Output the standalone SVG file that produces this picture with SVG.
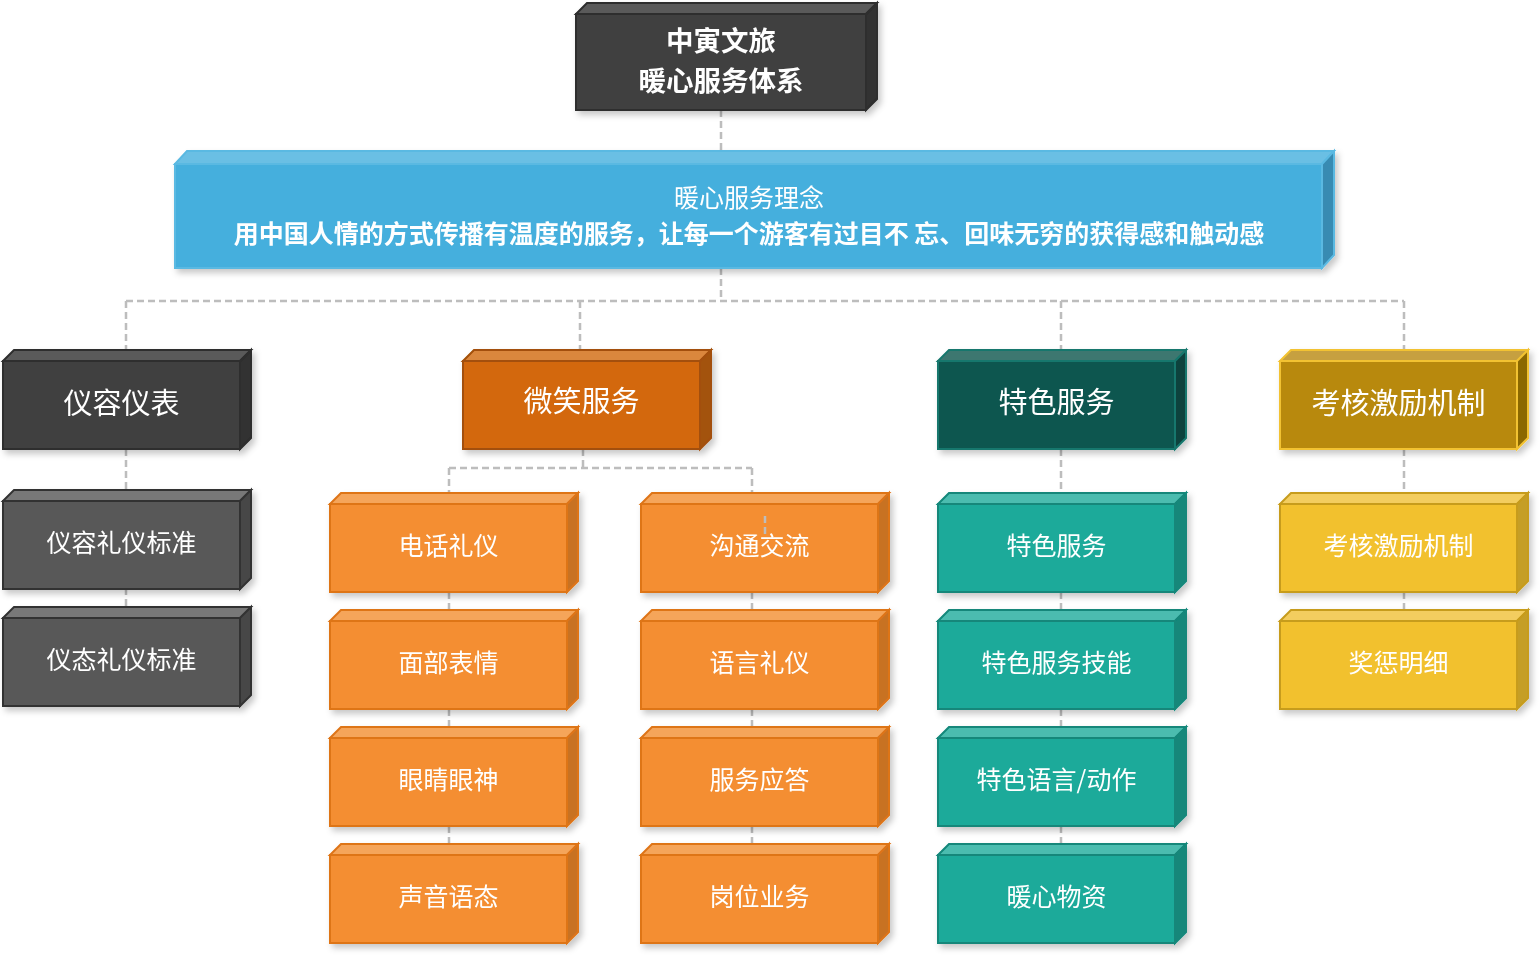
<svg xmlns="http://www.w3.org/2000/svg" width="1540" height="955" viewBox="0 0 1540 955">
<defs>
<filter id="sh" x="-10%" y="-20%" width="125%" height="145%">
<feDropShadow dx="3" dy="4" stdDeviation="3" flood-color="#000" flood-opacity="0.22"/>
</filter>
</defs>
<style>
text{font-family:"Noto Sans CJK SC","Liberation Sans",sans-serif;fill:#fff;text-anchor:middle;dominant-baseline:central}
.l2{font-size:29px}
.l3{font-size:25px}
.conn{fill:none;stroke:#BDBDBD;stroke-width:2.5;stroke-dasharray:7 4}
.box{filter:url(#sh)}
.box rect,.box polygon{stroke-width:2;stroke-linejoin:miter}
.dk rect{fill:#404040;stroke:#2E2E2E}.dk .t{fill:#5A5A5A;stroke:#2E2E2E}.dk .s{fill:#303030;stroke:#2E2E2E}
.gr rect{fill:#595959;stroke:#333}.gr .t{fill:#787878;stroke:#333}.gr .s{fill:#474747;stroke:#333}
.bl rect{fill:#45AFDD;stroke:#5AB9E2}.bl .t{fill:#6BBFE4;stroke:#5AB9E2}.bl .s{fill:#388BB2;stroke:#5AB9E2}
.od rect{fill:#D3680A;stroke:#A35008}.od .t{fill:#DA873E;stroke:#A35008}.od .s{fill:#A3520A;stroke:#A35008}
.or rect{fill:#F48E30;stroke:#DE7419}.or .t{fill:#F5A55A;stroke:#DE7419}.or .s{fill:#C87224;stroke:#DE7419}
.td rect{fill:#0C5650;stroke:#16776D}.td .t{fill:#3D776F;stroke:#16776D}.td .s{fill:#08433E;stroke:#16776D}
.tl rect{fill:#1AAA9A;stroke:#12877A}.tl .t{fill:#4BBCAF;stroke:#12877A}.tl .s{fill:#13877A;stroke:#12877A}
.yd rect{fill:#B8890A;stroke:#F2C230}.yd .t{fill:#C6A040;stroke:#F2C230}.yd .s{fill:#8B6806;stroke:#F2C230}
.yl rect{fill:#F2C12E;stroke:#C79C1E}.yl .t{fill:#F3CD5E;stroke:#C79C1E}.yl .s{fill:#C59E28;stroke:#C79C1E}
</style>

<g id="connectors">
<path class="conn" d="M721,110 V151 M721,268 V301 M126,301 H1404 M126,301 V350 M580,301 V350 M1061,301 V350 M1404,301 V350"/>
<path class="conn" d="M126,449 V490 M126,588 V607"/>
<path class="conn" d="M583,449 V468 M449,468 H752 M449,468 V494 M752,468 V494"/>
<path class="conn" d="M449,592 V611 M449,709 V728 M449,826 V845"/>
<path class="conn" d="M752,592 V611 M752,709 V728 M752,826 V845"/>
<path class="conn" d="M1061,449 V494 M1061,592 V611 M1061,709 V728 M1061,826 V845"/>
<path class="conn" d="M1404,449 V494 M1404,592 V611"/>
</g>

<g id="root" class="box dk" transform="translate(576,14)">
<polygon class="t" points="0,0 11,-11 301,-11 290,0"/>
<polygon class="s" points="290,0 301,-11 301,85 290,96"/>
<rect width="290" height="96"/>
<text style="font-size:27.5px;font-weight:bold"><tspan x="145" y="25">中寅文旅</tspan><tspan x="145" y="65">暖心服务体系</tspan></text>
</g>

<g id="banner" class="box bl" transform="translate(175,164)">
<polygon class="t" points="0,0 12,-13 1159,-13 1147,0"/>
<polygon class="s" points="1147,0 1159,-13 1159,91 1147,104"/>
<rect width="1147" height="104"/>
<text x="574" y="32" style="font-size:25px">暖心服务理念</text>
<text x="574" y="68" style="font-size:25px;font-weight:bold">用中国人情的方式传播有温度的服务，让每一个游客有过目不 忘、回味无穷的获得感和触动感</text>
</g>

<g id="n-yrb" class="box dk" transform="translate(3,361)">
<polygon class="t" points="0,0 11,-11 248,-11 237,0"/><polygon class="s" points="237,0 248,-11 248,77 237,88"/><rect width="237" height="88"/>
<text class="l2" x="118.5" y="40">仪容仪表</text>
</g>
<g id="n-wxfw" class="box od" transform="translate(463,361)">
<polygon class="t" points="0,0 11,-11 248,-11 237,0"/><polygon class="s" points="237,0 248,-11 248,77 237,88"/><rect width="237" height="88"/>
<text class="l2" x="118.5" y="38">微笑服务</text>
</g>
<g id="n-tsfw" class="box td" transform="translate(938,361)">
<polygon class="t" points="0,0 11,-11 248,-11 237,0"/><polygon class="s" points="237,0 248,-11 248,77 237,88"/><rect width="237" height="88"/>
<text class="l2" x="118.5" y="39">特色服务</text>
</g>
<g id="n-khjl" class="box yd" transform="translate(1280,361)">
<polygon class="t" points="0,0 11,-11 248,-11 237,0"/><polygon class="s" points="237,0 248,-11 248,77 237,88"/><rect width="237" height="88"/>
<text class="l2" x="118.5" y="40">考核激励机制</text>
</g>

<g id="n-yrly" class="box gr" transform="translate(3,501)">
<polygon class="t" points="0,0 11,-11 248,-11 237,0"/><polygon class="s" points="237,0 248,-11 248,77 237,88"/><rect width="237" height="88"/>
<text class="l3" x="118.5" y="40">仪容礼仪标准</text>
</g>
<g id="n-ytly" class="box gr" transform="translate(3,618)">
<polygon class="t" points="0,0 11,-11 248,-11 237,0"/><polygon class="s" points="237,0 248,-11 248,77 237,88"/><rect width="237" height="88"/>
<text class="l3" x="118.5" y="40">仪态礼仪标准</text>
</g>

<g id="n-dhly" class="box or" transform="translate(330,504)">
<polygon class="t" points="0,0 11,-11 248,-11 237,0"/><polygon class="s" points="237,0 248,-11 248,77 237,88"/><rect width="237" height="88"/>
<text class="l3" x="118.5" y="40">电话礼仪</text>
</g>
<g id="n-mbbq" class="box or" transform="translate(330,621)">
<polygon class="t" points="0,0 11,-11 248,-11 237,0"/><polygon class="s" points="237,0 248,-11 248,77 237,88"/><rect width="237" height="88"/>
<text class="l3" x="118.5" y="40">面部表情</text>
</g>
<g id="n-yjys" class="box or" transform="translate(330,738)">
<polygon class="t" points="0,0 11,-11 248,-11 237,0"/><polygon class="s" points="237,0 248,-11 248,77 237,88"/><rect width="237" height="88"/>
<text class="l3" x="118.5" y="40">眼睛眼神</text>
</g>
<g id="n-syyt" class="box or" transform="translate(330,855)">
<polygon class="t" points="0,0 11,-11 248,-11 237,0"/><polygon class="s" points="237,0 248,-11 248,77 237,88"/><rect width="237" height="88"/>
<text class="l3" x="118.5" y="40">声音语态</text>
</g>

<g id="n-gtjl" class="box or" transform="translate(641,504)">
<polygon class="t" points="0,0 11,-11 248,-11 237,0"/><polygon class="s" points="237,0 248,-11 248,77 237,88"/><rect width="237" height="88"/>
<text class="l3" x="118.5" y="40">沟通交流</text>
</g>
<g id="n-yyly" class="box or" transform="translate(641,621)">
<polygon class="t" points="0,0 11,-11 248,-11 237,0"/><polygon class="s" points="237,0 248,-11 248,77 237,88"/><rect width="237" height="88"/>
<text class="l3" x="118.5" y="40">语言礼仪</text>
</g>
<g id="n-fwyd" class="box or" transform="translate(641,738)">
<polygon class="t" points="0,0 11,-11 248,-11 237,0"/><polygon class="s" points="237,0 248,-11 248,77 237,88"/><rect width="237" height="88"/>
<text class="l3" x="118.5" y="40">服务应答</text>
</g>
<g id="n-gwyw" class="box or" transform="translate(641,855)">
<polygon class="t" points="0,0 11,-11 248,-11 237,0"/><polygon class="s" points="237,0 248,-11 248,77 237,88"/><rect width="237" height="88"/>
<text class="l3" x="118.5" y="40">岗位业务</text>
</g>

<g id="n-tsfw2" class="box tl" transform="translate(938,504)">
<polygon class="t" points="0,0 11,-11 248,-11 237,0"/><polygon class="s" points="237,0 248,-11 248,77 237,88"/><rect width="237" height="88"/>
<text class="l3" x="118.5" y="40">特色服务</text>
</g>
<g id="n-tsjn" class="box tl" transform="translate(938,621)">
<polygon class="t" points="0,0 11,-11 248,-11 237,0"/><polygon class="s" points="237,0 248,-11 248,77 237,88"/><rect width="237" height="88"/>
<text class="l3" x="118.5" y="40">特色服务技能</text>
</g>
<g id="n-tsyy" class="box tl" transform="translate(938,738)">
<polygon class="t" points="0,0 11,-11 248,-11 237,0"/><polygon class="s" points="237,0 248,-11 248,77 237,88"/><rect width="237" height="88"/>
<text class="l3" x="118.5" y="40">特色语言/动作</text>
</g>
<g id="n-nxwz" class="box tl" transform="translate(938,855)">
<polygon class="t" points="0,0 11,-11 248,-11 237,0"/><polygon class="s" points="237,0 248,-11 248,77 237,88"/><rect width="237" height="88"/>
<text class="l3" x="118.5" y="40">暖心物资</text>
</g>

<g id="n-khjl2" class="box yl" transform="translate(1280,504)">
<polygon class="t" points="0,0 11,-11 248,-11 237,0"/><polygon class="s" points="237,0 248,-11 248,77 237,88"/><rect width="237" height="88"/>
<text class="l3" x="118.5" y="40">考核激励机制</text>
</g>
<g id="n-jcmx" class="box yl" transform="translate(1280,621)">
<polygon class="t" points="0,0 11,-11 248,-11 237,0"/><polygon class="s" points="237,0 248,-11 248,77 237,88"/><rect width="237" height="88"/>
<text class="l3" x="118.5" y="40">奖惩明细</text>
</g>

<g id="connector-tick">
<path class="conn" d="M765,516 V535"/>
</g>
</svg>
